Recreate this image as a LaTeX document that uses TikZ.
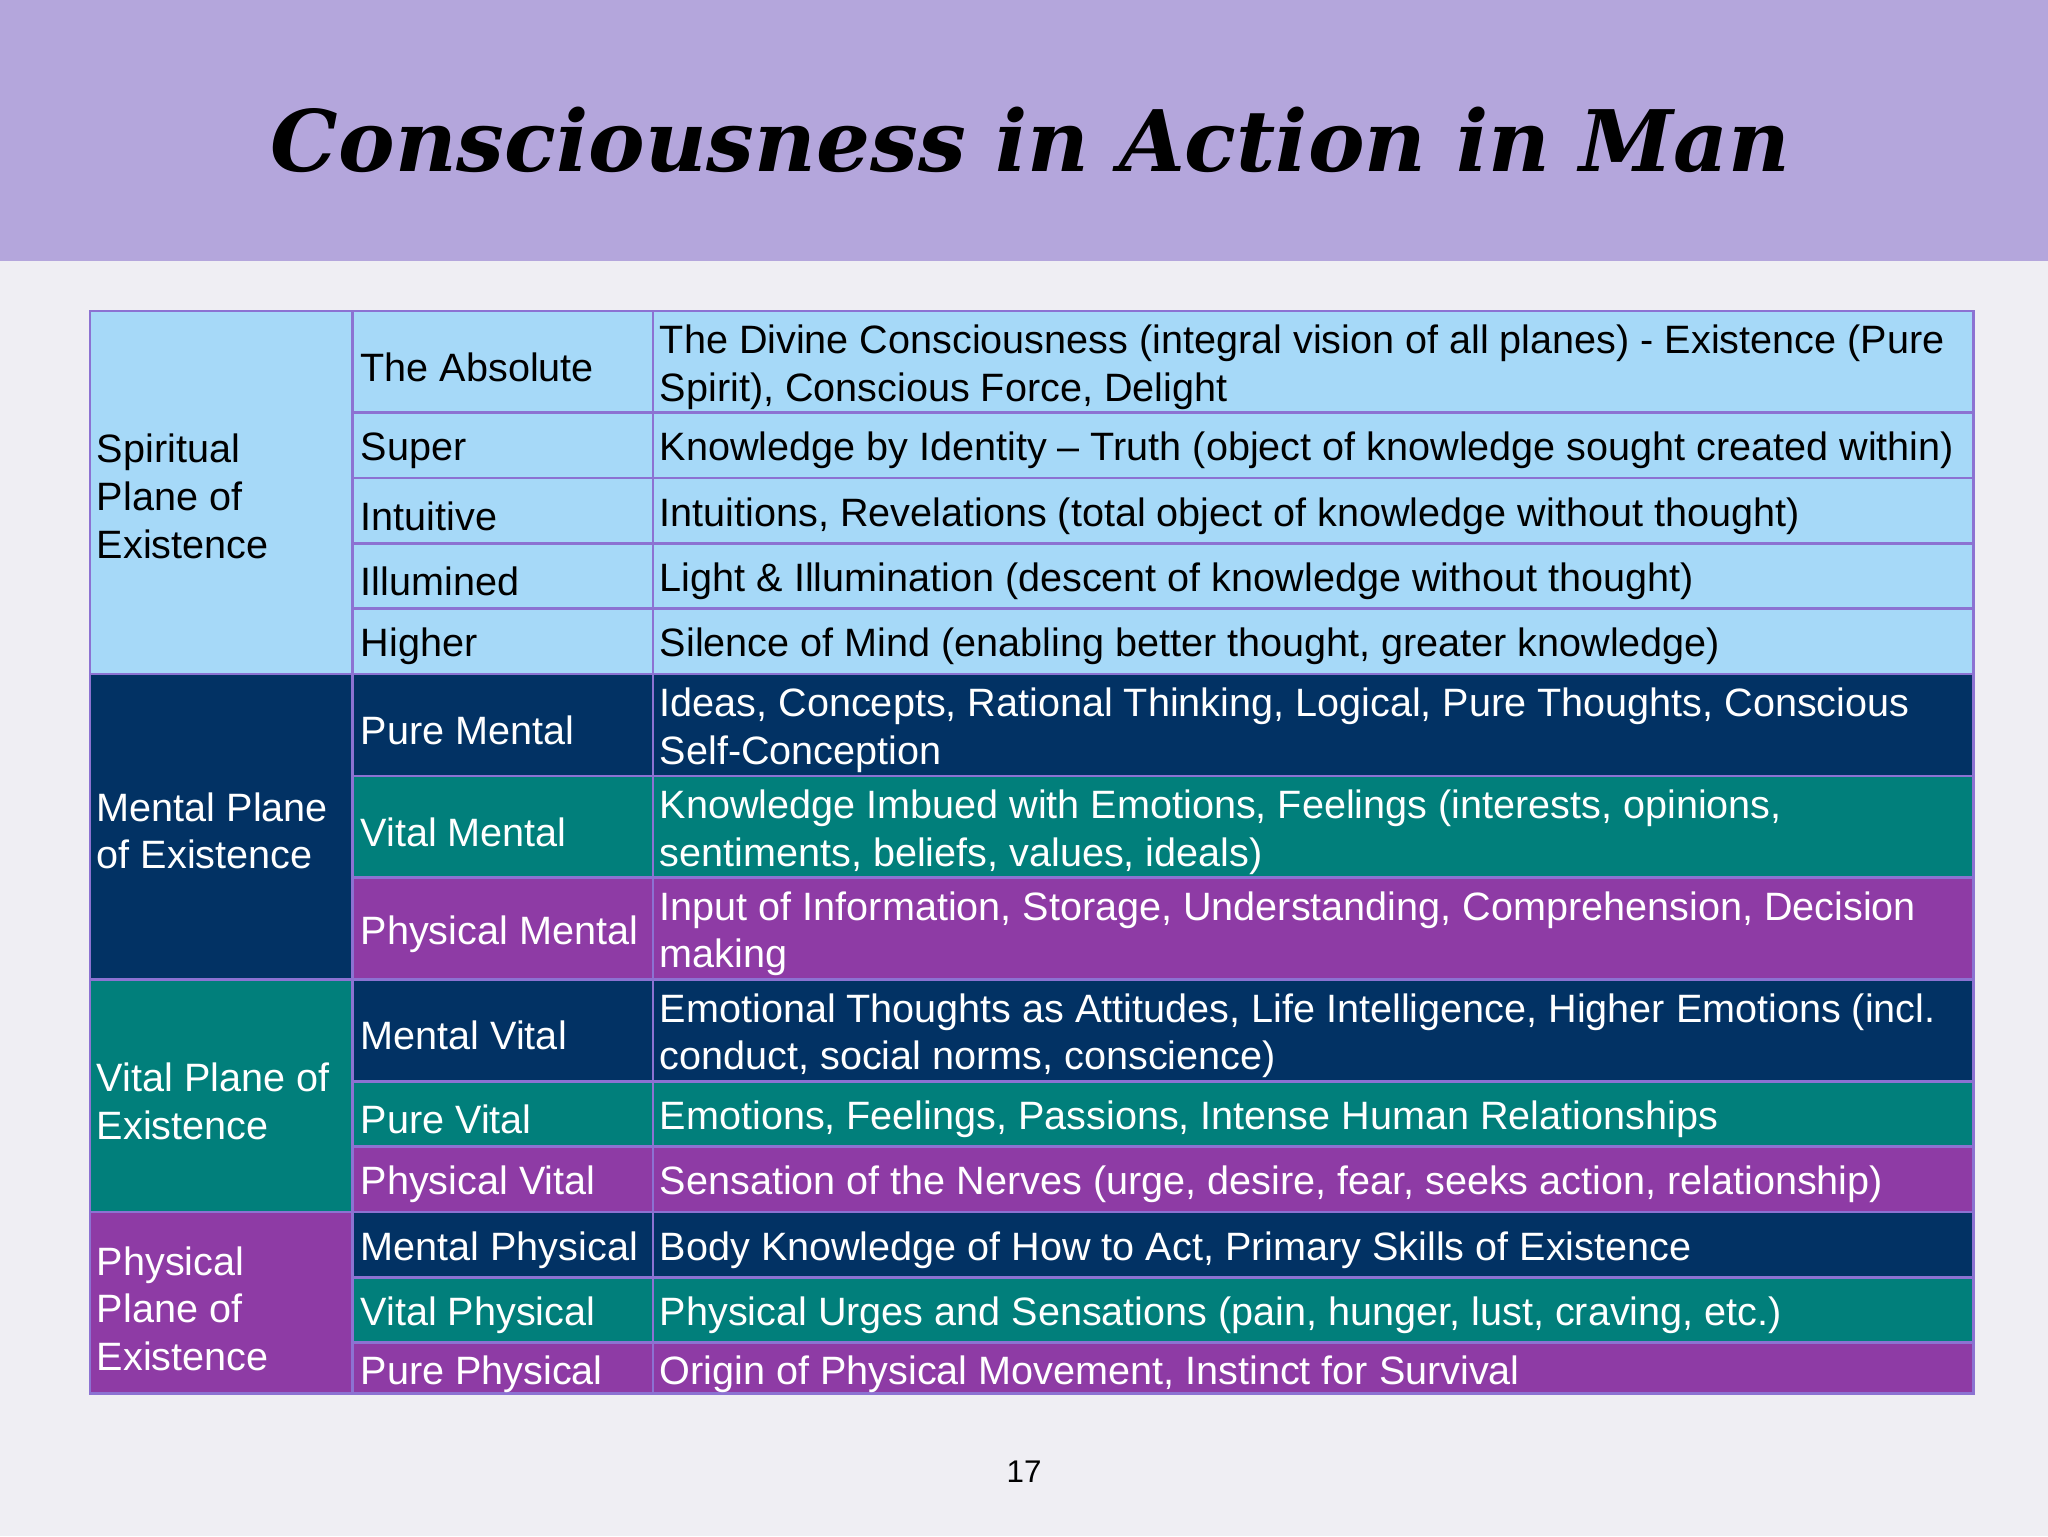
\documentclass[tikz,border=0pt]{standalone}
\usepackage{fontspec}
\setmainfont{Liberation Sans}
\newfontfamily\titlefont{DejaVu Serif}
\definecolor{bgtop}{HTML}{B4A6DC}
\definecolor{bgpage}{HTML}{EFEEF3}
\definecolor{lblue}{HTML}{A6D9F8}
\definecolor{navy}{HTML}{023264}
\definecolor{teal}{HTML}{017F7B}
\definecolor{purp}{HTML}{8E3BA5}
\definecolor{grid}{HTML}{8C72D2}
\tikzset{celltxt/.style={anchor=west,align=left,font=\fontsize{30.3}{36.5}\selectfont,inner sep=0pt},
 wtxt/.style={celltxt,text=white}}
\begin{document}
\begin{tikzpicture}[x=1pt,y=-1pt]
\fill[bgpage] (0,0) rectangle (1568,1176);
\fill[bgtop] (0,0) rectangle (1568,200);
\node[font=\titlefont\bfseries\itshape\fontsize{65}{75}\selectfont] (title) at (789,107) {Consciousness in Action in Man};
\node[font=\fontsize{24}{28}\selectfont] (pg) at (784,1127) {17};
\fill[lblue] (69,238) rectangle (270,516);
\fill[navy] (69,516) rectangle (270,750);
\fill[teal] (69,750) rectangle (270,928);
\fill[purp] (69,928) rectangle (270,1067);
\foreach \a/\b/\c in {238/516/lblue,516/594/navy,594/672/teal,672/750/purp,750/828/navy,828/878/teal,878/928/purp,928/978/navy,978/1028/teal,1028/1067/purp}
  \fill[\c] (270,\a) rectangle (1511,\b);
\begin{scope}[draw=grid,line width=2pt]
\draw (69,238) rectangle (1511,1067);
\draw (270,238) -- (270,1067);
\draw (500,238) -- (500,1067);
\foreach \y in {516,750,928} \draw (69,\y) -- (1511,\y);
\foreach \y in {316,366,416,466,594,672,828,878,978,1028} \draw (270,\y) -- (1511,\y);
\end{scope}
\node[celltxt] (g1) at (74,380) {Spiritual\\Plane of\\Existence};
\node[wtxt] (g2) at (74,636) {Mental Plane\\of Existence};
\node[wtxt] (g3) at (74,843) {Vital Plane of\\Existence};
\node[wtxt] (g4) at (74,1002) {Physical\\Plane of\\Existence};
\node[celltxt] (a1) at (276,281) {The Absolute};
\node[celltxt] (b1) at (505,281) {The Divine Consciousness (integral vision of all planes) - Existence (Pure\\Spirit), Conscious Force, Delight};
\node[celltxt] (a2) at (276,345) {Super};
\node[celltxt] (b2) at (505,345) {Knowledge by Identity -- Truth (object of knowledge sought created within)};
\node[celltxt] (a3) at (276,395) {Intuitive};
\node[celltxt] (b3) at (505,395) {Intuitions, Revelations (total object of knowledge without thought)};
\node[celltxt] (a4) at (276,445) {Illumined};
\node[celltxt] (b4) at (505,445) {Light \& Illumination (descent of knowledge without thought)};
\node[celltxt] (a5) at (276,495) {Higher};
\node[celltxt] (b5) at (505,495) {Silence of Mind (enabling better thought, greater knowledge)};
\node[wtxt] (a6) at (276,559) {Pure Mental};
\node[wtxt] (b6) at (505,559) {Ideas, Concepts, Rational Thinking, Logical, Pure Thoughts, Conscious\\Self-Conception};
\node[wtxt] (a7) at (276,637) {Vital Mental};
\node[wtxt] (b7) at (505,637) {Knowledge Imbued with Emotions, Feelings (interests, opinions,\\sentiments, beliefs, values, ideals)};
\node[wtxt] (a8) at (276,715) {Physical Mental};
\node[wtxt] (b8) at (505,715) {Input of Information, Storage, Understanding, Comprehension, Decision\\making};
\node[wtxt] (a9) at (276,793) {Mental Vital};
\node[wtxt] (b9) at (505,793) {Emotional Thoughts as Attitudes, Life Intelligence, Higher Emotions (incl.\\conduct, social norms, conscience)};
\node[wtxt] (a10) at (276,857) {Pure Vital};
\node[wtxt] (b10) at (505,857) {Emotions, Feelings, Passions, Intense Human Relationships};
\node[wtxt] (a11) at (276,907) {Physical Vital};
\node[wtxt] (b11) at (505,907) {Sensation of the Nerves (urge, desire, fear, seeks action, relationship)};
\node[wtxt] (a12) at (276,957) {Mental Physical};
\node[wtxt] (b12) at (505,957) {Body Knowledge of How to Act, Primary Skills of Existence};
\node[wtxt] (a13) at (276,1007) {Vital Physical};
\node[wtxt] (b13) at (505,1007) {Physical Urges and Sensations (pain, hunger, lust, craving, etc.)};
\node[wtxt] (a14) at (276,1052) {Pure Physical};
\node[wtxt] (b14) at (505,1052) {Origin of Physical Movement, Instinct for Survival};
\end{tikzpicture}
\end{document}
